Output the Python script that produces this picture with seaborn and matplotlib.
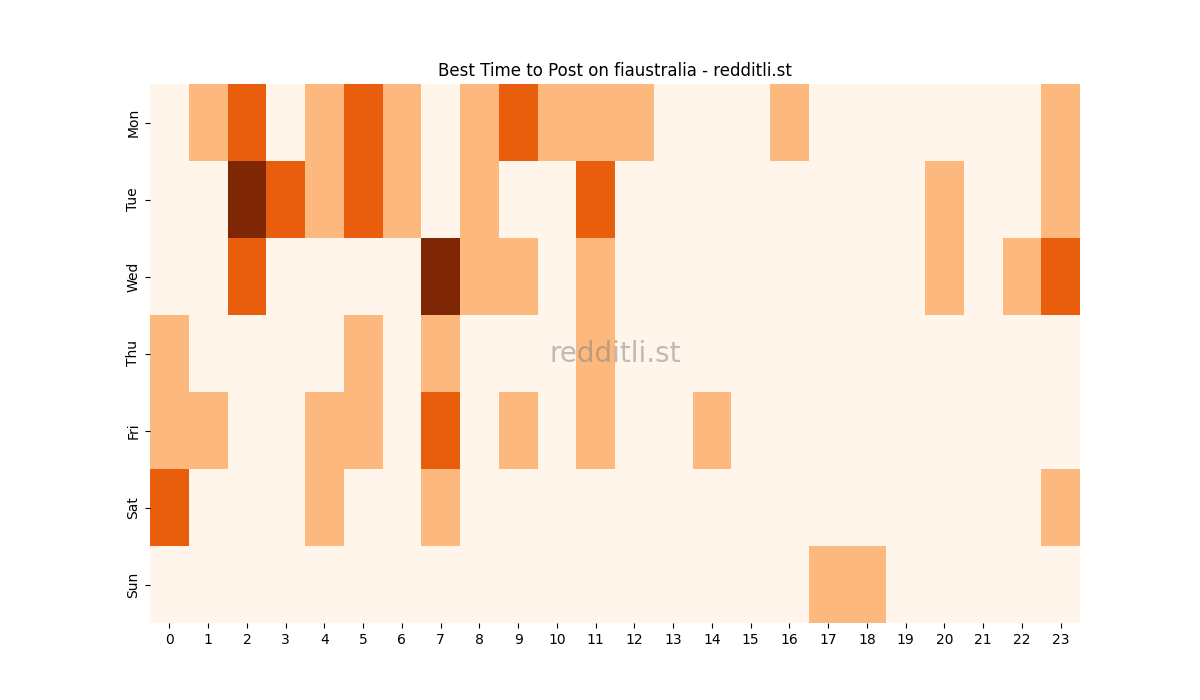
import numpy as np
import pandas as pd
import seaborn as sns
import matplotlib.pyplot as plt

days = ['Mon', 'Tue', 'Wed', 'Thu', 'Fri', 'Sat', 'Sun']
hours = list(range(24))

# activity level per hour (0-3)
mon = [0, 1, 2, 0, 1, 2, 1, 0, 1, 2, 1, 1, 1, 0, 0, 0, 1, 0, 0, 0, 0, 0, 0, 1]
tue = [0, 0, 3, 2, 1, 2, 1, 0, 1, 0, 0, 2, 0, 0, 0, 0, 0, 0, 0, 0, 1, 0, 0, 1]
wed = [0, 0, 2, 0, 0, 0, 0, 3, 1, 1, 0, 1, 0, 0, 0, 0, 0, 0, 0, 0, 1, 0, 1, 2]
thu = [1, 0, 0, 0, 0, 1, 0, 1, 0, 0, 0, 1, 0, 0, 0, 0, 0, 0, 0, 0, 0, 0, 0, 0]
fri = [1, 1, 0, 0, 1, 1, 0, 2, 0, 1, 0, 1, 0, 0, 1, 0, 0, 0, 0, 0, 0, 0, 0, 0]
sat = [2, 0, 0, 0, 1, 0, 0, 1, 0, 0, 0, 0, 0, 0, 0, 0, 0, 0, 0, 0, 0, 0, 0, 1]
sun = [0, 0, 0, 0, 0, 0, 0, 0, 0, 0, 0, 0, 0, 0, 0, 0, 0, 1, 1, 0, 0, 0, 0, 0]

df = pd.DataFrame([mon, tue, wed, thu, fri, sat, sun], index=days, columns=hours)

fig, ax = plt.subplots(figsize=(12, 7), dpi=100)
sns.heatmap(df, cmap='Oranges', vmin=0, vmax=3, cbar=False, ax=ax)
ax.set_title('Best Time to Post on fiaustralia - redditli.st')
ax.set_yticklabels(days, rotation=90, va='center')
ax.set_xticklabels(hours, rotation=0)
ax.text(0.5, 0.5, 'redditli.st', transform=ax.transAxes, ha='center', va='center',
        fontsize=20, color='grey', alpha=0.5)

fig.savefig('out.png')
